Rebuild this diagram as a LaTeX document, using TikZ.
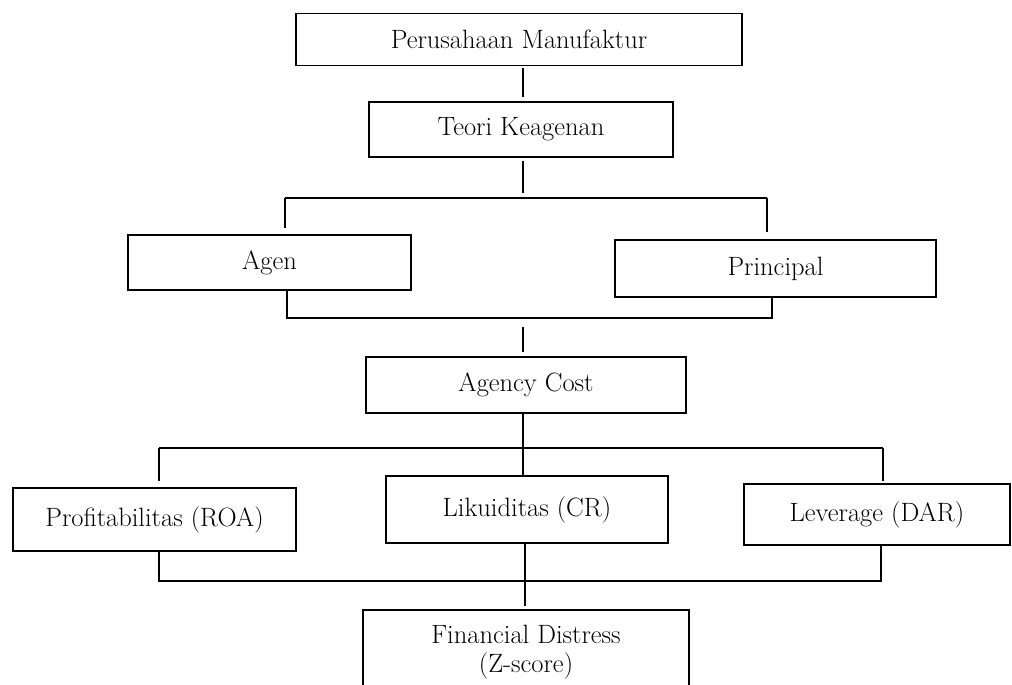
\documentclass[tikz,border=0pt]{standalone}
\begin{document}
\begin{tikzpicture}[x=1pt,y=-1pt,
  bx/.style={draw,line width=1.5pt,inner sep=0pt,align=center,font=\fontsize{26.5}{29}\selectfont},
  conn/.style={line width=1.5pt}]
\useasboundingbox (0,0) rectangle (1012,685);
\clip (0,0) rectangle (1012,685);
\node[bx,minimum width=446,minimum height=52] (pm) at (519,39.5) {Perusahaan Manufaktur};
\node[bx,minimum width=304,minimum height=55] (tk) at (521,129.5) {Teori Keagenan};
\node[bx,minimum width=283,minimum height=55] (agen) at (269.5,262.5) {Agen};
\node[bx,minimum width=321,minimum height=57] (princ) at (775.5,268.5) {Principal};
\node[bx,minimum width=320,minimum height=56] (ac) at (526,385) {Agency Cost};
\node[bx,minimum width=283,minimum height=63] (prof) at (154.5,519.5) {Profitabilitas (ROA)};
\node[bx,minimum width=282,minimum height=67] (lik) at (527,509.5) {\raisebox{6pt}{Likuiditas (CR)}};
\node[bx,minimum width=266,minimum height=61] (lev) at (877,514.5) {Leverage (DAR)};
\node[bx,minimum width=326,minimum height=85] (fd) at (526,652.5) {Financial Distress\\(Z-score)};
% junction coordinates
\coordinate (cx) at (523,0);
\coordinate (b1) at (523,198);
\coordinate (b1l) at (285,198);
\coordinate (b1r) at (767,198);
\coordinate (b2l) at (287,318);
\coordinate (b2r) at (772,318);
\coordinate (b2c) at (523,327);
\coordinate (b3l) at (159,448);
\coordinate (b3r) at (883,448);
\coordinate (b4l) at (159,581);
\coordinate (b4r) at (881,581);
\coordinate (b4c) at (525,581);
% connectors
\draw[conn,shorten <=2pt,shorten >=4pt] (pm.south -| cx) -- (tk.north -| cx);
\draw[conn,shorten <=3pt,shorten >=5pt] (tk.south -| cx) -- (b1);
\draw[conn] (b1l) -- (b1r);
\draw[conn,shorten >=6pt] (b1l) -- (b1l |- agen.north);
\draw[conn,shorten >=7pt] (b1r) -- (b1r |- princ.north);
\draw[conn] (agen.south -| b2l) -- (b2l) -- (b2r) -- (princ.south -| b2r);
\draw[conn,shorten >=4pt] (b2c) -- (ac.north -| cx);
\draw[conn] (ac.south -| cx) -- (lik.north -| cx);
\draw[conn] (b3l) -- (b3r);
\draw[conn,shorten >=6pt] (b3l) -- (b3l |- prof.north);
\draw[conn,shorten >=2pt] (b3r) -- (b3r |- lev.north);
\draw[conn] (prof.south -| b4l) -- (b4l) -- (b4r) -- (lev.south -| b4r);
\draw[conn,shorten >=3pt] (lik.south -| b4c) -- (fd.north -| b4c);
\end{tikzpicture}
\end{document}
